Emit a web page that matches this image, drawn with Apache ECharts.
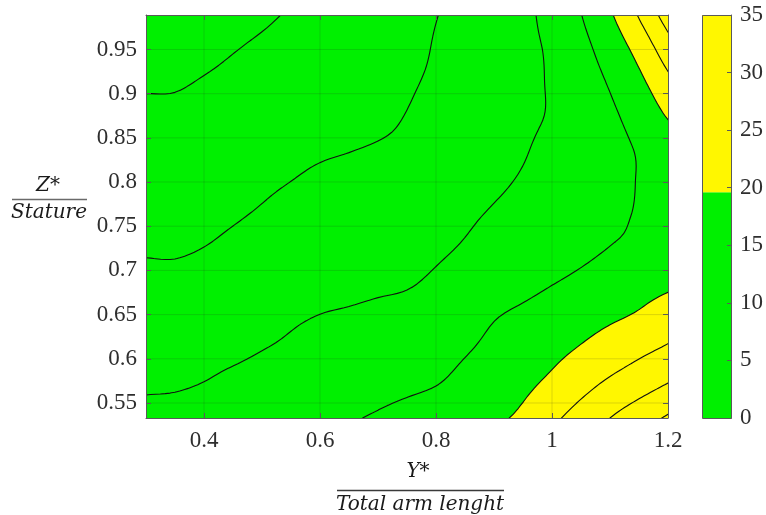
<!DOCTYPE html>
<html>
<head>
<meta charset="utf-8">
<script src="https://cdn.jsdelivr.net/npm/echarts@6/dist/echarts.min.js"></script>
<style>
  html, body { margin: 0; padding: 0; background: #ffffff; }
  #chart { width: 766px; height: 515px; }
</style>
</head>
<body>
<div id="chart"></div>
<script>
// Sampling positions of the surface: Y*/arm length (columns) and Z*/stature (rows)
const yStar = [0.30, 0.35, 0.40, 0.45, 0.50, 0.55, 0.60, 0.65, 0.70, 0.75,
               0.80, 0.85, 0.90, 0.95, 1.00, 1.05, 1.10, 1.15, 1.20];
const zStar = [0.533, 0.571, 0.609, 0.647, 0.685, 0.723, 0.761,
               0.799, 0.837, 0.875, 0.913, 0.951, 0.989];

// Surface values, one row per zStar entry (bottom to top)
const zRow00 = [10.9, 11.0, 11.5, 12.0, 12.7, 13.4, 14.2, 14.7, 15.4, 16.4, 17.4, 18.4, 19.4, 20.8, 24.0, 27.0, 30.0, 32.8, 35.6];
const zRow01 = [9.6, 9.7, 10.1, 10.8, 11.5, 12.2, 12.9, 13.3, 13.7, 14.2, 14.9, 16.3, 17.7, 19.1, 21.0, 23.5, 25.9, 28.0, 30.2];
const zRow02 = [8.4, 8.4, 8.9, 9.35, 10.0, 10.6, 11.3, 11.9, 12.2, 12.7, 13.4, 14.7, 16.1, 17.5, 18.9, 20.5, 22.3, 24.1, 25.8];
const zRow03 = [7.2, 7.2, 7.6, 8.2, 8.9, 9.6, 10.1, 10.4, 10.75, 11.2, 12.0, 13.3, 14.8, 15.9, 17.1, 18.2, 19.4, 20.6, 22.4];
const zRow04 = [5.9, 5.9, 6.4, 7.0, 7.7, 8.4, 9.0, 9.25, 9.5, 9.75, 10.6, 11.7, 12.8, 13.8, 14.9, 15.9, 17.0, 18.3, 19.3];
const zRow05 = [4.75, 4.7, 5.1, 5.8, 6.6, 7.3, 7.9, 8.2, 8.4, 8.7, 9.5, 10.35, 11.3, 12.3, 13.2, 14.2, 15.15, 15.9, 17.5];
const zRow06 = [3.75, 3.7, 4.1, 4.7, 5.4, 6.2, 6.8, 7.1, 7.4, 7.7, 8.7, 9.5, 10.4, 11.4, 12.4, 13.3, 14.3, 15.3, 16.5];
const zRow07 = [2.7, 2.7, 3.1, 3.7, 4.4, 5.05, 5.65, 6.0, 6.3, 6.7, 7.6, 8.5, 9.4, 10.4, 11.6, 12.8, 13.9, 15.15, 16.2];
const zRow08 = [1.7, 1.7, 2.2, 2.8, 3.4, 4.1, 4.6, 4.9, 5.25, 5.7, 6.6, 7.5, 8.6, 9.7, 11.05, 12.5, 13.9, 15.3, 17.2];
const zRow09 = [0.67, 0.69, 1.2, 1.8, 2.4, 3.1, 3.7, 4.0, 4.3, 5.1, 6.2, 7.2, 8.25, 9.3, 10.35, 12.4, 14.3, 16.7, 20.4];
const zRow10 = [-0.35, -0.3, 0.2, 0.8, 1.5, 2.2, 2.8, 3.2, 3.6, 4.5, 5.65, 6.8, 8.0, 9.2, 10.4, 13.0, 15.4, 18.9, 23.8];
const zRow11 = [-1.37, -1.3, -0.8, -0.15, 0.5, 1.2, 1.9, 2.4, 2.85, 3.7, 5.3, 6.6, 7.9, 9.2, 10.6, 13.7, 17.1, 21.7, 27.8];
const zRow12 = [-2.4, -2.3, -1.75, -1.1, -0.5, 0.3, 1.2, 1.9, 2.9, 4.0, 4.9, 6.3, 7.8, 9.1, 11.4, 14.9, 19.4, 25.4, 32.4];

// Contour levels, level where the fill switches colour, colour bar
const contourLevels = [0, 5, 10, 15, 20, 25, 30, 35];
const fillLevel = 20;
const colorbarBreaks = [0, 19.6, 35];
const colorbarTicks = [0, 5, 10, 15, 20, 25, 30, 35];

// Axis ticks
const xTicks = [0.4, 0.6, 0.8, 1.0, 1.2];
const yTicks = [0.55, 0.6, 0.65, 0.7, 0.75, 0.8, 0.85, 0.9, 0.95];
const xRange = [0.3, 1.2];
const yRange = [0.533, 0.989];

// ---- styling ----
const GREEN = '#00f000';
const YELLOW = '#fff700';
const bandColors = [GREEN, YELLOW];
const AXIS = '#5a5a5a';
const LABEL = '#2e2e2e';
const SERIF = 'Liberation Serif';
const MATH = '"DejaVu Serif", serif';

const zRows = [zRow00, zRow01, zRow02, zRow03, zRow04, zRow05, zRow06,
               zRow07, zRow08, zRow09, zRow10, zRow11, zRow12];

// ---- smooth resampling (Catmull-Rom) for drawing the contours ----
function cr(p0, p1, p2, p3, t) {
  const t2 = t * t, t3 = t2 * t;
  return 0.5 * (2 * p1 + (-p0 + p2) * t + (2 * p0 - 5 * p1 + 4 * p2 - p3) * t2 +
                (-p0 + 3 * p1 - 3 * p2 + p3) * t3);
}
function resample(arr, k) {
  const n = arr.length, out = [];
  const at = i => i < 0 ? 2 * arr[0] - arr[1] : (i >= n ? 2 * arr[n - 1] - arr[n - 2] : arr[i]);
  for (let i = 0; i < n - 1; i++) {
    for (let s = 0; s < k; s++) out.push(cr(at(i - 1), at(i), at(i + 1), at(i + 2), s / k));
  }
  out.push(arr[n - 1]);
  return out;
}
function resampleLinear(arr, k) {
  const out = [];
  for (let i = 0; i < arr.length - 1; i++) {
    for (let s = 0; s < k; s++) out.push(arr[i] + (arr[i + 1] - arr[i]) * s / k);
  }
  out.push(arr[arr.length - 1]);
  return out;
}
const KX = 6, KY = 8;
const FX = resampleLinear(yStar, KX);
const FY = resampleLinear(zStar, KY);
const rowsX = zRows.map(r => resample(r, KX));
const FZ = FY.map(() => []);
for (let i = 0; i < FX.length; i++) {
  const col = resample(rowsX.map(r => r[i]), KY);
  for (let j = 0; j < FY.length; j++) FZ[j][i] = col[j];
}

function lerpPt(a, b, va, vb, t) {
  const f = (t - va) / (vb - va);
  return [a[0] + f * (b[0] - a[0]), a[1] + f * (b[1] - a[1])];
}

function renderSurface(params, api) {
  const px = p => { const c = api.coord(p); return c[0].toFixed(2) + ' ' + c[1].toFixed(2); };
  const children = [];
  let fillPath = '';
  const linePaths = contourLevels.map(() => '');
  for (let j = 0; j < FY.length - 1; j++) {
    for (let i = 0; i < FX.length - 1; i++) {
      const P = [[FX[i], FY[j]], [FX[i + 1], FY[j]], [FX[i + 1], FY[j + 1]], [FX[i], FY[j + 1]]];
      const v = [FZ[j][i], FZ[j][i + 1], FZ[j + 1][i + 1], FZ[j + 1][i]];
      // filled region above the switching level
      const poly = [];
      for (let k = 0; k < 4; k++) {
        const a = v[k], b = v[(k + 1) % 4];
        if (a >= fillLevel) poly.push(P[k]);
        if ((a >= fillLevel) !== (b >= fillLevel)) poly.push(lerpPt(P[k], P[(k + 1) % 4], a, b, fillLevel));
      }
      if (poly.length >= 3) fillPath += 'M' + poly.map(px).join('L') + 'Z';
      // contour lines
      const vc = (v[0] + v[1] + v[2] + v[3]) / 4;
      contourLevels.forEach((t, li) => {
        const e = [null, null, null, null];
        let cnt = 0;
        for (let k = 0; k < 4; k++) {
          const a = v[k], b = v[(k + 1) % 4];
          if ((a >= t) !== (b >= t)) { e[k] = lerpPt(P[k], P[(k + 1) % 4], a, b, t); cnt++; }
        }
        if (cnt === 2) {
          const idx = [0, 1, 2, 3].filter(k => e[k]);
          linePaths[li] += 'M' + px(e[idx[0]]) + 'L' + px(e[idx[1]]);
        } else if (cnt === 4) {
          const pairs = ((vc >= t) === (v[0] >= t)) ? [[0, 1], [2, 3]] : [[3, 0], [1, 2]];
          pairs.forEach(pr => { linePaths[li] += 'M' + px(e[pr[0]]) + 'L' + px(e[pr[1]]); });
        }
      });
    }
  }
  children.push({ type: 'path', shape: { pathData: fillPath }, style: { fill: YELLOW, stroke: null } });

  // grid lines over the fill
  let gridPath = '';
  xTicks.forEach(x => { if (x > xRange[0] && x < xRange[1]) gridPath += 'M' + px([x, yRange[0]]) + 'L' + px([x, yRange[1]]); });
  yTicks.forEach(y => { if (y > yRange[0] && y < yRange[1]) gridPath += 'M' + px([xRange[0], y]) + 'L' + px([xRange[1], y]); });
  children.push({ type: 'path', shape: { pathData: gridPath }, style: { fill: null, stroke: 'rgba(38,38,38,0.16)', lineWidth: 1 } });

  linePaths.forEach(d => {
    if (d) children.push({ type: 'path', shape: { pathData: d },
      style: { fill: null, stroke: '#111111', lineWidth: 1.1, lineCap: 'round', lineJoin: 'round' } });
  });
  return { type: 'group', children };
}

function renderColorbar(params, api) {
  const children = [];
  for (let k = 0; k < colorbarBreaks.length - 1; k++) {
    const p0 = api.coord([0, colorbarBreaks[k]]);
    const p1 = api.coord([1, colorbarBreaks[k + 1]]);
    children.push({ type: 'rect',
      shape: { x: p0[0], y: p1[1], width: p1[0] - p0[0], height: p0[1] - p1[1] },
      style: { fill: bandColors[k] } });
  }
  const a = api.coord([0, colorbarBreaks[0]]);
  const b = api.coord([1, colorbarBreaks[colorbarBreaks.length - 1]]);
  children.push({ type: 'rect',
    shape: { x: Math.round(a[0]) + 0.5, y: Math.round(b[1]) + 0.5, width: Math.round(b[0] - a[0]), height: Math.round(a[1] - b[1]) },
    style: { fill: null, stroke: AXIS, lineWidth: 1 } });
  return { type: 'group', children };
}

const tickLabel = { fontFamily: SERIF, fontSize: 23, color: LABEL };
const chart = echarts.init(document.getElementById('chart'), null, { renderer: 'canvas' });
chart.setOption({
  animation: false,
  backgroundColor: '#ffffff',
  grid: [
    { left: 146, top: 15, width: 522, height: 403, show: true, backgroundColor: GREEN, borderWidth: 0 },
    { left: 702, top: 15, width: 32, height: 403, show: false }
  ],
  xAxis: [
    { gridIndex: 0, type: 'value', min: xRange[0], max: xRange[1], position: 'bottom', z: 10,
      axisLine: { show: true, onZero: false, lineStyle: { color: AXIS, width: 1 } },
      axisTick: { show: true, inside: true, length: 5, customValues: xTicks, lineStyle: { color: AXIS } },
      axisLabel: Object.assign({ customValues: xTicks, margin: 11 }, tickLabel),
      splitLine: { show: false } },
    { gridIndex: 0, type: 'value', min: xRange[0], max: xRange[1], position: 'top', z: 10,
      axisLine: { show: true, onZero: false, lineStyle: { color: AXIS, width: 1 } },
      axisTick: { show: true, inside: true, length: 5, customValues: xTicks, lineStyle: { color: AXIS } },
      axisLabel: { show: false }, splitLine: { show: false } },
    { gridIndex: 1, type: 'value', min: 0, max: 1, show: false }
  ],
  yAxis: [
    { gridIndex: 0, type: 'value', min: yRange[0], max: yRange[1], position: 'left', z: 10,
      axisLine: { show: true, onZero: false, lineStyle: { color: AXIS, width: 1 } },
      axisTick: { show: true, inside: true, length: 5, customValues: yTicks, lineStyle: { color: AXIS } },
      axisLabel: Object.assign({ customValues: yTicks, margin: 9 }, tickLabel),
      splitLine: { show: false } },
    { gridIndex: 0, type: 'value', min: yRange[0], max: yRange[1], position: 'right', z: 10,
      axisLine: { show: true, onZero: false, lineStyle: { color: AXIS, width: 1 } },
      axisTick: { show: true, inside: true, length: 5, customValues: yTicks, lineStyle: { color: AXIS } },
      axisLabel: { show: false }, splitLine: { show: false } },
    { gridIndex: 1, type: 'value', min: colorbarTicks[0], max: colorbarTicks[colorbarTicks.length - 1],
      interval: 5, position: 'right', z: 10,
      axisLine: { show: true, onZero: false, lineStyle: { color: AXIS, width: 1 } },
      axisTick: { show: true, inside: true, length: 4, lineStyle: { color: AXIS } },
      axisLabel: Object.assign({ margin: 9 }, tickLabel),
      splitLine: { show: false } }
  ],
  series: [
    { type: 'custom', name: 'surface', xAxisIndex: 0, yAxisIndex: 0, clip: true,
      renderItem: renderSurface, data: [[xRange[0], yRange[0]]], silent: true, z: 2 },
    { type: 'custom', name: 'colorbar', xAxisIndex: 2, yAxisIndex: 2, clip: false,
      renderItem: renderColorbar, data: [[0, 0]], silent: true, z: 2 }
  ],
  graphic: [
    { type: 'text', x: 48, y: 186, style: { text: 'Z*', font: 'italic 20px ' + MATH, fill: '#1a1a1a', align: 'center', verticalAlign: 'middle' } },
    { type: 'line', shape: { x1: 12, y1: 199.5, x2: 87, y2: 199.5 }, style: { stroke: '#6a6a6a', lineWidth: 1.5 } },
    { type: 'text', x: 49, y: 213, style: { text: 'Stature', font: 'italic 20px ' + MATH, fill: '#1a1a1a', align: 'center', verticalAlign: 'middle' } },
    { type: 'text', x: 418, y: 472, style: { text: 'Y*', font: 'italic 20px ' + MATH, fill: '#1a1a1a', align: 'center', verticalAlign: 'middle' } },
    { type: 'line', shape: { x1: 337, y1: 490.5, x2: 504, y2: 490.5 }, style: { stroke: '#3a3a3a', lineWidth: 1.5 } },
    { type: 'text', x: 420, y: 505, style: { text: 'Total arm lenght', font: 'italic 20px ' + MATH, fill: '#1a1a1a', align: 'center', verticalAlign: 'middle' } }
  ]
});
</script>
</body>
</html>
